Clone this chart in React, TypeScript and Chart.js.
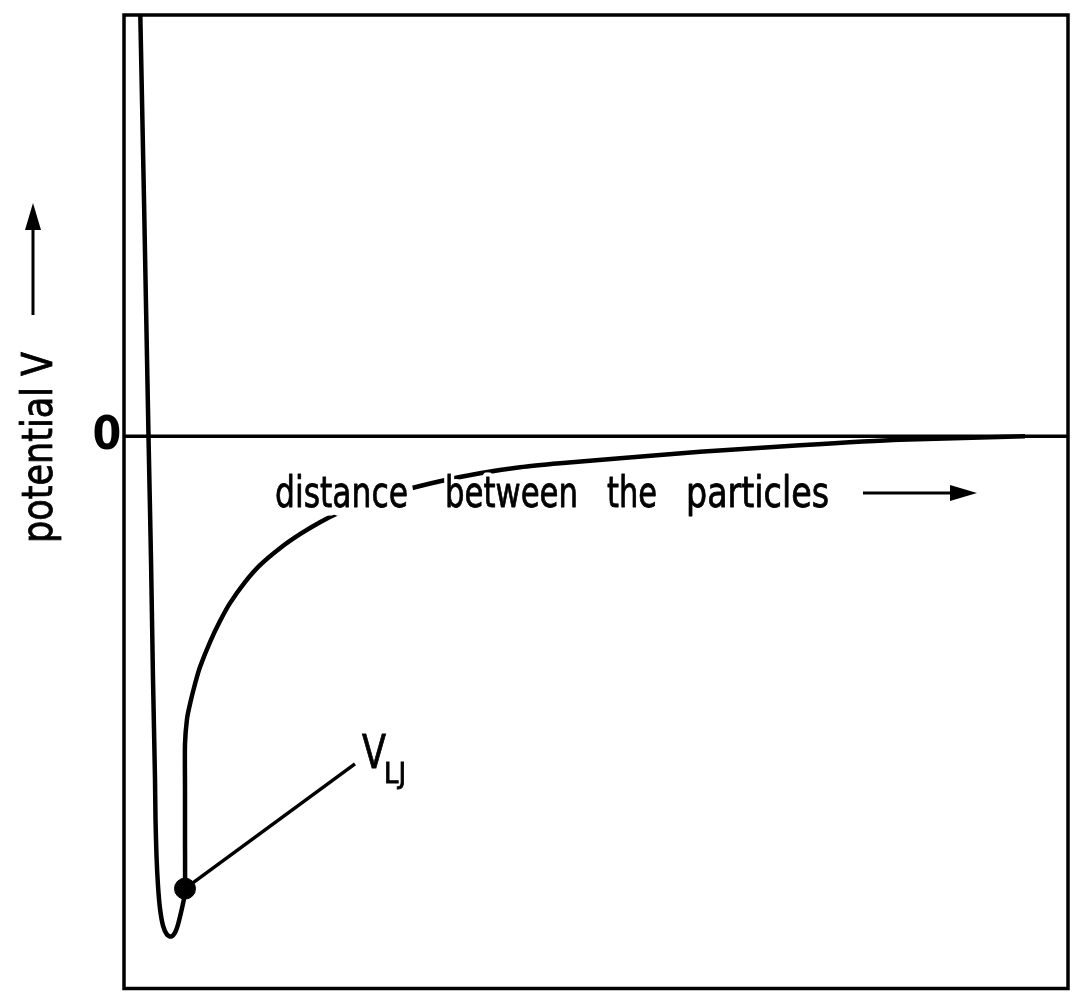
import React, { useEffect, useRef } from "react";
import { Chart, registerables } from "chart.js";

Chart.register(...registerables);

// Axis ranges (arbitrary units: distance / potential)
const X_MIN = 0;
const X_MAX = 94.4;
const Y_MIN = -5.53;
const Y_MAX = 4.22;

// Lennard-Jones style potential curve
const curveX = [1.6, 2.0, 2.45, 2.7, 2.9, 3.1, 3.15, 3.25, 3.4, 3.6, 3.9, 4.3, 4.7, 5.1, 5.4, 5.7, 6.0, 6.1, 6.1, 6.1, 6.1, 6.3, 6.6, 7.1, 7.6, 8.6, 9.6, 10.6, 12.1, 13.6, 15.6, 17.6, 19.6, 21.6, 24.6, 27.6, 31.6, 35.6, 39.6, 43.6, 49.6, 57.6, 67.6, 77.6, 90.1];
const curveY = [4.37, 2.37, 0, -1.23, -2.43, -3.43, -3.83, -4.2, -4.5, -4.73, -4.9, -4.99, -5.01, -4.97, -4.89, -4.77, -4.63, -4.53, -4.03, -3.53, -3.08, -2.83, -2.68, -2.48, -2.31, -2.06, -1.85, -1.67, -1.46, -1.29, -1.12, -0.98, -0.86, -0.76, -0.64, -0.55, -0.45, -0.37, -0.31, -0.27, -0.22, -0.155, -0.09, -0.035, 0];

// zero reference line
const zeroX = [X_MIN, X_MAX];
const zeroY = [0, 0];

// marked point on the curve and its leader line
const dotX = [6.1];
const dotY = [-4.53];
const leaderX = [6.1, 23.1];
const leaderY = [-4.53, -3.28];

// texts
const zeroLabel = "0";
const yTitle = "potential V";
const xTitleWords = ["distance", "between", "the", "particles"];
const pointLabel = "V";
const pointLabelSub = "LJ";

const FONT = '"Liberation Sans Narrow", "DejaVu Sans Condensed", "Liberation Sans", sans-serif';

function pts(xs: number[], ys: number[]) {
  return xs.map((x, i) => ({ x, y: ys[i] }));
}

function fitText(ctx: CanvasRenderingContext2D, text: string, x: number, y: number, targetW: number, halo: number) {
  const w = ctx.measureText(text).width;
  const sx = targetW / w;
  ctx.save();
  ctx.translate(x, y);
  ctx.scale(sx, 1);
  if (halo > 0) {
    ctx.lineJoin = "round";
    ctx.strokeStyle = "#fff";
    ctx.lineWidth = halo;
    ctx.strokeText(text, 0, 0);
  }
  ctx.fillStyle = "#000";
  ctx.fillText(text, 0, 0);
  ctx.lineWidth = 0.8;
  ctx.strokeStyle = "#000";
  ctx.strokeText(text, 0, 0);
  ctx.restore();
}

const decorations = {
  id: "decorations",
  afterDatasetsDraw(chart: any) {
    const ctx: CanvasRenderingContext2D = chart.ctx;
    const { left, top, right, bottom } = chart.chartArea;
    const xs = chart.scales.x;
    const ys = chart.scales.y;
    ctx.save();
    // frame
    ctx.strokeStyle = "#000";
    ctx.lineWidth = 3.5;
    ctx.strokeRect(left, top, right - left, bottom - top);

    // zero label
    ctx.font = `bold 46px ${FONT}`;
    ctx.textBaseline = "middle";
    ctx.textAlign = "center";
    ctx.fillStyle = "#000";
    ctx.fillText(zeroLabel, left - 17, ys.getPixelForValue(0) + 1);

    // x title words with white halo
    ctx.textAlign = "left";
    ctx.textBaseline = "alphabetic";
    ctx.font = `43px ${FONT}`;
    const wordX = [275, 445, 607, 686];
    const wordW = [133, 133, 50, 143];
    const halos = [17, 9, 9, 9];
    const base = 507;
    xTitleWords.forEach((w, i) => fitText(ctx, w, wordX[i], base, wordW[i], halos[i]));

    // x arrow
    ctx.lineWidth = 3;
    ctx.strokeStyle = "#000";
    ctx.fillStyle = "#000";
    ctx.beginPath();
    ctx.moveTo(863, 493);
    ctx.lineTo(955, 493);
    ctx.stroke();
    ctx.beginPath();
    ctx.moveTo(977, 493);
    ctx.lineTo(950, 485);
    ctx.lineTo(950, 501);
    ctx.closePath();
    ctx.fill();

    // y title rotated
    ctx.save();
    ctx.translate(52, 543);
    ctx.rotate(-Math.PI / 2);
    ctx.font = `42px ${FONT}`;
    fitText(ctx, yTitle, 0, 0, 191, 0);
    ctx.restore();

    // y arrow
    ctx.lineWidth = 3;
    ctx.beginPath();
    ctx.moveTo(33, 315);
    ctx.lineTo(33, 225);
    ctx.stroke();
    ctx.beginPath();
    ctx.moveTo(33, 203);
    ctx.lineTo(25, 230);
    ctx.lineTo(41, 230);
    ctx.closePath();
    ctx.fill();

    // V_LJ label
    const lx = xs.getPixelForValue(leaderX[1]);
    const ly = ys.getPixelForValue(leaderY[1]);
    ctx.font = `47px ${FONT}`;
    fitText(ctx, pointLabel, lx + 7, ly + 4, 24, 0);
    ctx.font = `29px ${FONT}`;
    fitText(ctx, pointLabelSub, lx + 29, ly + 19, 22, 0);
    ctx.restore();
  },
};

export default function App() {
  const ref = useRef<HTMLCanvasElement>(null);
  useEffect(() => {
    document.body.style.margin = "0";
    const canvas = ref.current!;
    const chart = new Chart(canvas, {
      type: "scatter",
      data: {
        datasets: [
          {
            data: pts(zeroX, zeroY),
            showLine: true,
            borderColor: "#000",
            borderWidth: 3.5,
            pointRadius: 0,
          },
          {
            data: pts(curveX, curveY),
            showLine: true,
            borderColor: "#000",
            borderWidth: 4.5,
            pointRadius: 0,
            tension: 0.25,
          },
          {
            data: pts(leaderX, leaderY),
            showLine: true,
            borderColor: "#000",
            borderWidth: 3.5,
            pointRadius: 0,
          },
          {
            data: pts(dotX, dotY),
            backgroundColor: "#000",
            borderColor: "#000",
            pointRadius: 10.5,
          },
        ],
      },
      options: {
        responsive: false,
        animation: false,
        layout: { padding: { left: 124, top: 15, right: 13, bottom: 10 } },
        plugins: { legend: { display: false }, tooltip: { enabled: false } },
        scales: {
          x: { type: "linear", min: X_MIN, max: X_MAX, display: false },
          y: { type: "linear", min: Y_MIN, max: Y_MAX, display: false },
        },
      },
      plugins: [decorations],
    });
    return () => chart.destroy();
  }, []);
  return <canvas ref={ref} width={1081} height={1000} style={{ display: "block" }} />;
}
